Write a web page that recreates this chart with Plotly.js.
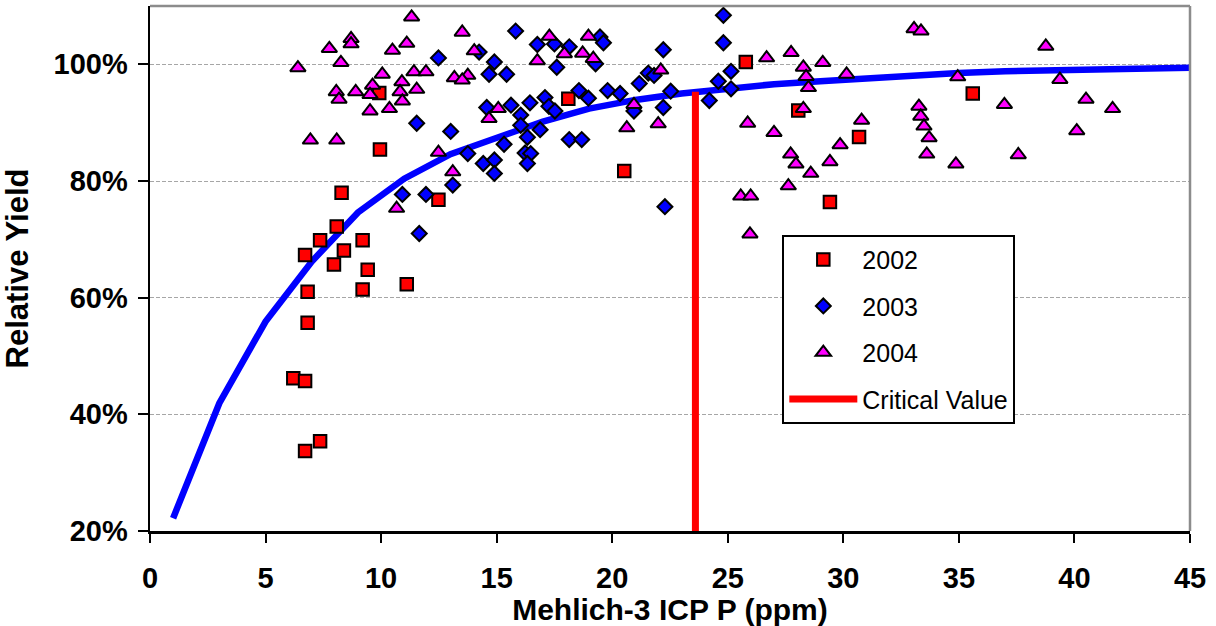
<!DOCTYPE html>
<html>
<head>
<meta charset="utf-8">
<script src="https://cdn.plot.ly/plotly-3.0.1.min.js"></script>
<style>html,body{margin:0;padding:0;background:#fff;}#chart{width:1216px;height:626px;}</style>
</head>
<body>
<div id="chart"></div>
<script>
// ---- data ----
var x2002 = [9.92, 9.95, 8.29, 12.48, 8.08, 7.36, 9.20, 8.39, 6.71, 7.96, 9.42, 11.11, 9.20, 6.82, 6.82, 6.20, 6.71, 7.36, 6.71, 18.10, 20.52, 25.78, 28.05, 30.68, 29.42, 35.60];
var y2002 = [95.1, 85.4, 78.0, 76.8, 72.2, 69.85, 69.85, 68.1, 67.3, 65.7, 64.8, 62.3, 61.4, 61.0, 55.7, 46.2, 45.7, 35.4, 33.7, 94.1, 81.7, 100.4, 92.1, 87.55, 76.4, 95.0];

var x2003 = [12.48, 11.54, 10.92, 11.94, 11.65, 14.24, 15.82, 16.76, 17.50, 18.14, 19.47, 19.62, 14.90, 14.67, 15.43, 17.60, 19.28, 22.21, 24.81, 24.81, 21.56, 21.17, 21.81, 24.59, 22.53, 24.20, 22.21, 19.80, 20.34, 18.56, 18.97, 17.09, 17.26, 17.52, 16.44, 15.62, 14.57, 16.04, 16.04, 16.88, 16.33, 18.14, 18.68, 15.32, 13.75, 13.01, 16.23, 16.47, 16.33, 14.42, 14.90, 14.90, 13.10, 22.28, 25.14, 25.14, 20.94];
var y2003 = [101.1, 89.9, 77.7, 77.7, 71.0, 102.1, 105.7, 103.4, 103.5, 103.0, 104.7, 103.7, 100.4, 98.3, 98.3, 99.5, 100.1, 102.5, 108.4, 103.7, 98.5, 96.7, 98.1, 97.1, 95.4, 93.8, 92.6, 95.5, 95.0, 95.5, 94.2, 94.3, 92.8, 92.0, 93.4, 93.0, 92.6, 91.3, 89.55, 88.8, 87.5, 87.1, 87.1, 86.3, 84.7, 88.5, 84.8, 84.7, 83.0, 83.0, 83.6, 81.3, 79.3, 75.6, 98.8, 95.8, 92.0];

var x2004 = [11.32, 8.70, 8.70, 7.76, 11.11, 10.49, 6.40, 8.26, 10.05, 9.63, 9.52, 8.90, 8.06, 8.18, 9.52, 10.36, 10.90, 10.82, 10.92, 11.42, 11.94, 11.54, 6.94, 8.08, 12.48, 10.67,
             13.51, 14.03, 13.17, 13.75, 13.51, 17.28, 18.97, 16.76, 17.93, 18.72, 19.18, 22.10, 20.94, 20.63, 21.99, 15.07, 14.67, 13.10,
             26.68, 27.74, 28.27, 28.39, 28.49, 29.11, 30.14, 28.27, 25.86, 27.00, 30.79, 29.86, 27.72, 27.95, 29.42, 28.59, 27.62, 25.56, 25.99, 25.96, 33.06, 33.36, 34.95, 33.27, 33.35, 33.49, 33.71, 33.61, 34.87,
             38.76, 39.37, 36.97, 40.50, 41.65, 40.10, 37.57];
var y2004 = [108.1, 104.4, 103.5, 102.7, 103.6, 102.4, 99.4, 100.3, 98.3, 96.4, 94.8, 95.3, 95.3, 94.0, 92.0, 92.4, 97.0, 95.3, 93.7, 98.7, 98.7, 95.7, 87.0, 87.0, 84.9, 75.3,
             105.5, 102.3, 97.7, 98.1, 97.3, 104.8, 104.8, 100.6, 101.8, 101.9, 101.0, 99.0, 93.1, 89.1, 89.8, 92.4, 90.7, 81.55,
             101.1, 102.0, 99.5, 97.9, 96.0, 100.3, 98.3, 92.4, 89.9, 88.3, 90.4, 86.2, 84.6, 82.9, 83.3, 81.3, 79.15, 77.4, 77.4, 70.9, 106.1, 105.7, 97.85, 92.8, 91.1, 89.4, 87.4, 84.6, 82.9,
             103.1, 97.4, 93.1, 94.0, 92.4, 88.6, 84.5];

var curveX = [1, 3, 5, 7, 9, 11, 13, 15, 17, 19, 21, 23, 25, 27, 29, 31, 33, 35, 37, 39, 41, 43, 45];
var curveY = [22.2, 41.9, 55.9, 66.2, 74.6, 80.4, 84.6, 87.5, 90.2, 92.4, 93.9, 95.0, 95.9, 96.6, 97.1, 97.6, 98.1, 98.5, 98.8, 99.0, 99.2, 99.3, 99.4];

var critX = [23.6, 23.6];
var critY = [20, 95.3];

var seriesNames = ['2002', '2003', '2004', 'Critical Value'];
var yTickVals = [20, 40, 60, 80, 100];
var yTickText = ['20%', '40%', '60%', '80%', '100%'];
var xTickVals = [0, 5, 10, 15, 20, 25, 30, 35, 40, 45];

// ---- chart ----
var FONT = 'Arial, "Liberation Sans", Helvetica, sans-serif';

var traces = [
  {x: curveX, y: curveY, mode: 'lines', type: 'scatter', showlegend: false, hoverinfo: 'skip',
   line: {color: '#0000FF', width: 6.5}},
  {x: x2002, y: y2002, mode: 'markers', type: 'scatter', name: seriesNames[0], legendgroup: 'a',
   marker: {symbol: 'square', size: 12.5, color: '#FF0000', line: {color: '#000000', width: 2}}},
  {x: x2003, y: y2003, mode: 'markers', type: 'scatter', name: seriesNames[1], legendgroup: 'b',
   marker: {symbol: 'diamond', size: 11.5, color: '#0000FF', line: {color: '#000000', width: 2}}},
  {x: x2004, y: y2004, mode: 'markers', type: 'scatter', name: seriesNames[2], legendgroup: 'c',
   marker: {symbol: 'triangle-up', size: 13.5, color: '#FF00FF', line: {color: '#000000', width: 2}}},
  {x: critX, y: critY, mode: 'lines', type: 'scatter', name: seriesNames[3], legendgroup: 'd',
   line: {color: '#FF0000', width: 7}}
];

var layout = {
  width: 1216, height: 626,
  margin: {l: 150, r: 26, t: 6, b: 95},
  paper_bgcolor: '#ffffff', plot_bgcolor: '#ffffff',
  font: {family: FONT, color: '#000000'},
  showlegend: true,
  legend: {
    x: 0.608, y: 0.5644, xanchor: 'left', yanchor: 'top',
    bgcolor: '#ffffff', bordercolor: '#000000', borderwidth: 2,
    font: {family: FONT, size: 25, color: '#000000'},
    traceorder: 'grouped', tracegroupgap: 11, itemwidth: 68
  },
  xaxis: {
    range: [0, 45], tickvals: xTickVals, ticks: 'outside', ticklen: 9, tickwidth: 2, tickcolor: '#000000',
    showline: true, linecolor: '#000000', linewidth: 2.5, showgrid: false, zeroline: false,
    tickfont: {family: FONT, size: 29, weight: 'bold', color: '#000000'},
    ticklabelstandoff: 11,
    title: {text: 'Mehlich-3 ICP P (ppm)', font: {family: FONT, size: 30, weight: 'bold', color: '#000000'}, standoff: 8}
  },
  yaxis: {
    range: [20, 110], tickvals: yTickVals, ticktext: yTickText, ticks: 'outside', ticklen: 10, tickwidth: 2, tickcolor: '#000000',
    showline: true, linecolor: '#000000', linewidth: 2.5, zeroline: false,
    showgrid: true, gridcolor: '#a6a6a6', gridwidth: 1, griddash: '4px,2px',
    tickfont: {family: FONT, size: 29, weight: 'bold', color: '#000000'},
    ticklabelstandoff: 4,
    title: {text: 'Relative Yield', font: {family: FONT, size: 31, weight: 'bold', color: '#000000'}, standoff: 16}
  },
  shapes: [
    {type: 'line', xref: 'paper', yref: 'paper', x0: 0, x1: 1, y0: 1, y1: 1, line: {color: '#8c8c8c', width: 2.5}},
    {type: 'line', xref: 'paper', yref: 'paper', x0: 1, x1: 1, y0: 0, y1: 1, line: {color: '#8c8c8c', width: 2.5}}
  ]
};

Plotly.newPlot('chart', traces, layout, {displayModeBar: false, staticPlot: true});
</script>
</body>
</html>
